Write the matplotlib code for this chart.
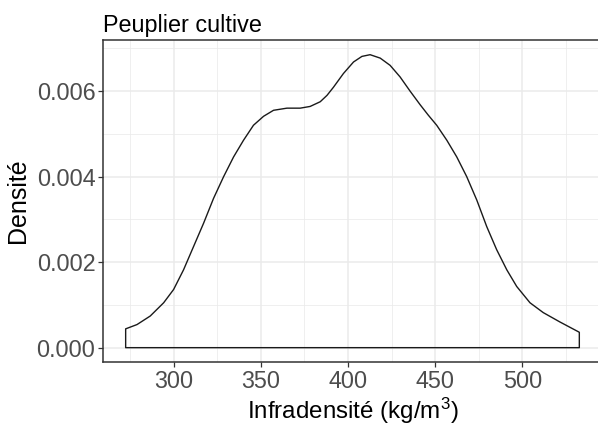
import numpy as np
import matplotlib.pyplot as plt
from matplotlib.ticker import MultipleLocator

plt.rcParams['font.family'] = ['Liberation Sans', 'DejaVu Sans']
plt.rcParams['mathtext.default'] = 'regular'

# density curve
infra = [272.5, 279.0, 286.6, 294.3, 300.0, 305.7, 311.5, 317.2, 322.9, 328.7,
         334.4, 340.1, 345.8, 351.6, 357.3, 365.0, 372.6, 378.3, 384.1, 388.0,
         391.7, 397.4, 403.2, 408.0, 412.7, 418.5, 424.2, 429.9, 435.6, 441.4,
         446.0, 450.9, 456.7, 462.4, 468.1, 473.9, 479.6, 485.3, 491.1, 496.8,
         504.4, 512.0, 521.6, 532.7]
dens = [0.00044, 0.00054, 0.00074, 0.00105, 0.00136, 0.00182, 0.00237, 0.00291,
        0.00349, 0.00400, 0.00446, 0.00485, 0.00520, 0.00541, 0.00555, 0.00560,
        0.00560, 0.00564, 0.00575, 0.00590, 0.00609, 0.00641, 0.00668, 0.00681,
        0.00685, 0.00677, 0.00660, 0.00633, 0.00600, 0.00568, 0.00544, 0.00520,
        0.00485, 0.00446, 0.00400, 0.00345, 0.00283, 0.00229, 0.00182, 0.00143,
        0.00105, 0.00082, 0.00060, 0.00036]

xticks = [300, 350, 400, 450, 500]
yticks = [0.000, 0.002, 0.004, 0.006]

fig = plt.figure(figsize=(5.98, 4.26), dpi=100)
ax = fig.add_axes([0.1722, 0.1495, 0.8345, 0.7565])

xs = np.r_[infra[0], infra, infra[-1]]
ys = np.r_[0, dens, 0]
ax.fill(xs, ys, facecolor='none', edgecolor='#1a1a1a', lw=1.0,
        joinstyle='round', zorder=3)

xr = infra[-1] - infra[0]
ax.set_xlim(infra[0] - 0.05 * xr, infra[-1] + 0.05 * xr)
ax.set_ylim(-0.05 * max(dens), 1.05 * max(dens))

ax.set_xticks(xticks)
ax.set_yticks(yticks)
ax.set_yticklabels([f'{v:.3f}' for v in yticks])
ax.xaxis.set_minor_locator(MultipleLocator(25))
ax.yaxis.set_minor_locator(MultipleLocator(0.001))
ax.grid(which='major', color='#ebebeb', lw=1.1, zorder=0)
ax.grid(which='minor', color='#ebebeb', lw=0.55, zorder=0)
ax.set_axisbelow(True)
ax.tick_params(which='major', length=3.5, width=0.9, color='#333333',
               labelsize=16.8, labelcolor='#4d4d4d', pad=2)
ax.tick_params(which='minor', length=0)
for s in ax.spines.values():
    s.set_color('#333333')
    s.set_linewidth(1.1)

ax.set_xlabel('Infradensité (kg/m$^3$)', fontsize=17.4, labelpad=2)
ax.set_ylabel('Densité', fontsize=18, labelpad=5)
ax.set_title('Peuplier cultive', loc='left', fontsize=16.8, pad=6)

fig.savefig('out.png', dpi=100)
